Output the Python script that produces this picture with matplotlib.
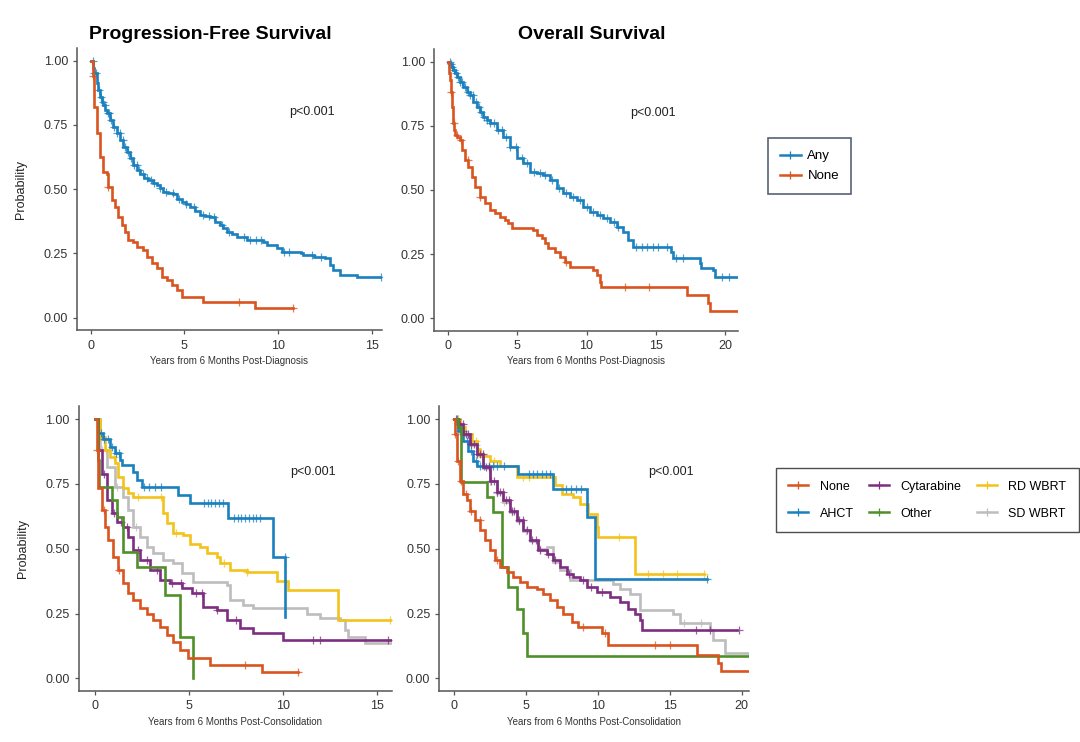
import matplotlib
matplotlib.use("Agg")
import matplotlib.pyplot as plt
import numpy as np
from matplotlib.lines import Line2D

plt.rcParams["font.family"] = ["Liberation Sans", "DejaVu Sans"]

COLORS = {
    "None": "#D9541E",
    "Any": "#1A80BE",
    "AHCT": "#1A80BE",
    "Cytarabine": "#7D2E80",
    "Other": "#4F9029",
    "RD WBRT": "#F3C31C",
    "SD WBRT": "#BDBDBD",
}

# ---- top left: PFS by any consolidation ----
pfs_any_t = [0, 0.11, 0.20, 0.32, 0.41, 0.50, 0.59, 0.68, 0.77, 0.85, 1.03, 1.21, 1.39, 1.57,
             1.74, 1.92, 2.10, 2.28, 2.46, 2.63, 2.85, 3.08, 3.31, 3.52, 3.70, 3.88, 4.15, 4.41,
             4.63, 4.86, 5.09, 5.30, 5.57, 5.84, 6.10, 6.37, 6.64, 6.90, 7.08, 7.26, 7.53, 7.79,
             8.33, 9.2, 9.4, 9.93, 10.2, 11.2, 11.35, 11.9, 12.5, 12.78, 12.95, 13.3, 14.2, 15.53]
pfs_any_s = [1.0, 0.970, 0.951, 0.912, 0.886, 0.860, 0.840, 0.827, 0.808, 0.795, 0.769, 0.743,
             0.717, 0.690, 0.665, 0.646, 0.620, 0.594, 0.575, 0.560, 0.545, 0.535, 0.525, 0.516,
             0.503, 0.490, 0.486, 0.480, 0.463, 0.450, 0.441, 0.430, 0.415, 0.400, 0.396, 0.393,
             0.374, 0.360, 0.347, 0.335, 0.325, 0.315, 0.302, 0.296, 0.283, 0.27, 0.257, 0.253,
             0.244, 0.237, 0.231, 0.205, 0.185, 0.166, 0.157, 0.157]
pfs_any_cens = [0.1, 0.2, 0.3, 0.45, 0.55, 0.65, 0.75, 0.9, 1.0, 1.1, 1.25, 1.4, 1.55, 1.7, 1.85,
                2.0, 2.15, 2.3, 2.45, 2.6, 2.8, 3.0, 3.2, 3.4, 3.7, 4.0, 4.4, 4.7, 5.1, 5.5, 6.0,
                6.3, 6.6, 7.0, 7.4, 8.2, 8.5, 8.8, 9.1, 10.3, 10.6, 11.8, 12.3, 15.5]

pfs_none_t = [0, 0.1, 0.2, 0.32, 0.5, 0.68, 0.85, 0.94, 1.12, 1.3, 1.48, 1.65, 1.83, 2.0, 2.28,
              2.46, 2.81, 2.99, 3.26, 3.52, 3.79, 4.06, 4.32, 4.59, 4.86, 6.01, 8.77, 10.8]
pfs_none_s = [1.0, 0.94, 0.82, 0.717, 0.626, 0.568, 0.56, 0.51, 0.458, 0.432, 0.393, 0.36, 0.335,
              0.302, 0.296, 0.276, 0.263, 0.237, 0.211, 0.192, 0.16, 0.147, 0.127, 0.108, 0.082,
              0.062, 0.036, 0.036]
pfs_none_cens = [0.15, 0.95, 7.9, 10.8]

# ---- top right: OS by any consolidation ----
os_any_t = [0, 0.12, 0.24, 0.36, 0.48, 0.6, 0.84, 1.08, 1.33, 1.57, 1.81, 2.05, 2.29, 2.53, 2.77,
            3.0, 3.5, 3.98, 4.46, 4.94, 5.42, 5.9, 6.39, 6.87, 7.35, 7.83, 8.31, 8.8, 9.28, 9.76,
            10.24, 10.72, 11.2, 11.69, 12.17, 12.65, 13.01, 13.37, 16.14, 16.27, 18.2, 18.3,
            19.16, 19.28, 20.97]
os_any_s = [1.0, 0.99, 0.98, 0.968, 0.955, 0.94, 0.922, 0.90, 0.883, 0.87, 0.844, 0.825, 0.805,
            0.786, 0.773, 0.76, 0.734, 0.708, 0.669, 0.623, 0.604, 0.571, 0.565, 0.558, 0.539,
            0.506, 0.487, 0.474, 0.461, 0.435, 0.416, 0.403, 0.39, 0.377, 0.357, 0.338, 0.305,
            0.277, 0.26, 0.234, 0.214, 0.195, 0.188, 0.16, 0.16]
os_any_cens = [0.1, 0.2, 0.3, 0.4, 0.55, 0.7, 0.85, 1.0, 1.2, 1.4, 1.6, 1.8, 2.0, 2.2, 2.4, 2.6,
               2.8, 3.0, 3.3, 3.6, 3.9, 4.2, 4.5, 4.9, 5.3, 5.7, 6.2, 6.6, 7.0, 7.5, 8.0, 8.5,
               9.0, 9.5, 10.0, 10.5, 11.0, 11.5, 12.0, 12.3, 13.6, 14.0, 14.4, 14.8, 15.2, 15.8,
               16.5, 17.0, 19.8, 20.3]

os_none_t = [0, 0.05, 0.12, 0.17, 0.24, 0.31, 0.36, 0.43, 0.48, 0.65, 0.84, 0.96, 1.2, 1.45,
             1.69, 1.93, 2.29, 2.65, 3.0, 3.37, 3.73, 4.1, 4.34, 4.58, 6.14, 6.39, 6.75, 6.99,
             7.23, 7.71, 8.07, 8.43, 8.8, 10.48, 10.72, 10.96, 11.08, 17.23, 18.8, 18.92, 20.97]
os_none_s = [1.0, 0.955, 0.93, 0.88, 0.825, 0.79, 0.76, 0.735, 0.714, 0.705, 0.695, 0.656, 0.617,
             0.59, 0.552, 0.513, 0.474, 0.448, 0.422, 0.409, 0.396, 0.383, 0.37, 0.35, 0.344,
             0.325, 0.312, 0.292, 0.273, 0.26, 0.24, 0.22, 0.201, 0.188, 0.169, 0.143, 0.123,
             0.091, 0.058, 0.03, 0.03]
os_none_cens = [0.2, 0.4, 0.6, 0.9, 1.4, 2.3, 8.5, 12.8, 14.5]

# ---- bottom left: PFS by consolidation type ----
pfs2_t = {
    "None": [0, 0.09, 0.18, 0.36, 0.53, 0.71, 0.98, 1.24, 1.51, 1.78, 2.04, 2.4, 2.75, 3.1, 3.46,
             3.82, 4.17, 4.53, 4.97, 6.12, 8.88, 10.83],
    "AHCT": [0, 0.18, 0.44, 0.8, 1.07, 1.33, 1.42, 2.04, 2.22, 2.49, 4.44, 5.06, 7.1, 9.5, 10.12],
    "Cytarabine": [0, 0.18, 0.36, 0.62, 0.89, 1.15, 1.51, 1.78, 2.04, 2.4, 2.93, 3.46, 4.0, 4.62,
                   5.15, 5.77, 6.48, 7.01, 7.72, 8.43, 10.03, 15.8],
    "Other": [0, 0.18, 0.23, 0.89, 1.15, 1.51, 2.22, 3.73, 4.53, 5.24],
    "RD WBRT": [0, 0.27, 0.53, 0.8, 1.07, 1.24, 1.51, 1.78, 2.04, 3.6, 3.82, 4.17, 4.7, 5.06,
                5.59, 5.95, 6.48, 6.66, 7.19, 8.08, 9.68, 10.3, 12.96, 15.8],
    "SD WBRT": [0, 0.27, 0.62, 1.07, 1.51, 1.78, 2.04, 2.4, 2.75, 3.1, 3.64, 4.17, 4.62, 5.24,
                7.01, 7.19, 7.9, 8.43, 11.27, 11.98, 13.05, 13.31, 13.49, 14.38, 15.8],
}
pfs2_s = {
    "None": [1.0, 0.88, 0.733, 0.649, 0.585, 0.533, 0.469, 0.418, 0.366, 0.328, 0.302, 0.27, 0.25,
             0.225, 0.199, 0.167, 0.141, 0.109, 0.077, 0.051, 0.026, 0.026],
    "AHCT": [1.0, 0.945, 0.925, 0.893, 0.868, 0.842, 0.823, 0.797, 0.765, 0.737, 0.707, 0.675,
             0.617, 0.469, 0.238],
    "Cytarabine": [1.0, 0.88, 0.79, 0.688, 0.636, 0.604, 0.585, 0.546, 0.495, 0.456, 0.418, 0.379,
                   0.366, 0.347, 0.328, 0.276, 0.263, 0.225, 0.193, 0.174, 0.148, 0.148],
    "Other": [1.0, 0.842, 0.738, 0.688, 0.623, 0.488, 0.43, 0.321, 0.161, 0.0],
    "RD WBRT": [1.0, 0.93, 0.88, 0.855, 0.829, 0.778, 0.733, 0.713, 0.70, 0.636, 0.598, 0.559,
                0.553, 0.52, 0.508, 0.482, 0.469, 0.443, 0.418, 0.411, 0.375, 0.34, 0.225, 0.225],
    "SD WBRT": [1.0, 0.88, 0.816, 0.739, 0.70, 0.649, 0.585, 0.546, 0.508, 0.482, 0.456, 0.443,
                0.405, 0.373, 0.36, 0.302, 0.283, 0.27, 0.25, 0.231, 0.225, 0.186, 0.161, 0.135,
                0.135],
}
pfs2_cens = {
    "None": [0.1, 0.5, 1.3, 8.0, 10.8],
    "AHCT": [0.3, 0.5, 0.7, 0.9, 1.1, 1.3, 2.6, 2.9, 3.2, 3.5, 5.8, 6.0, 6.2, 6.4, 6.6, 6.8, 7.4,
             7.6, 7.8, 8.0, 8.2, 8.4, 8.6, 8.8, 10.1],
    "Cytarabine": [0.5, 1.0, 1.4, 1.7, 2.3, 2.8, 3.3, 4.1, 4.6, 5.4, 5.7, 6.5, 7.5, 11.6, 12.0, 15.6],
    "Other": [],
    "RD WBRT": [0.3, 0.6, 1.0, 2.3, 3.5, 4.3, 6.9, 8.1, 15.7],
    "SD WBRT": [0.4, 1.2, 2.2],
}

# ---- bottom right: OS by consolidation type ----
os2_t = {
    "None": [0, 0.07, 0.19, 0.42, 0.65, 0.88, 1.11, 1.46, 1.81, 2.16, 2.5, 2.85, 3.2, 3.66, 4.13,
             4.59, 5.05, 5.75, 6.21, 6.67, 7.14, 7.6, 8.18, 8.64, 10.27, 10.73, 16.87, 18.38,
             18.54, 20.53],
    "AHCT": [0, 0.3, 0.65, 1.0, 1.34, 1.58, 4.47, 6.9, 9.22, 9.8, 17.6],
    "Cytarabine": [0, 0.3, 0.65, 1.11, 1.58, 2.04, 2.5, 2.97, 3.43, 3.89, 4.36, 4.82, 5.28, 5.86,
                   6.44, 6.9, 7.37, 7.83, 8.3, 8.76, 9.22, 9.92, 10.85, 11.54, 12.12, 12.58,
                   12.93, 13.05, 19.65],
    "Other": [0, 0.3, 0.46, 2.27, 2.73, 3.31, 3.78, 4.36, 4.82, 5.1, 20.53],
    "RD WBRT": [0, 0.42, 0.76, 1.23, 1.58, 1.81, 2.5, 3.2, 4.36, 7.02, 7.49, 8.3, 8.76, 9.34, 9.92,
                10.03, 12.58, 17.4],
    "SD WBRT": [0, 0.3, 0.65, 1.11, 1.58, 2.04, 2.5, 2.97, 3.43, 3.89, 4.36, 4.82, 5.28, 5.86,
                6.44, 6.9, 7.37, 8.07, 11.08, 11.54, 12.24, 12.93, 15.25, 15.71, 17.8, 18.03,
                18.84, 20.53],
}
os2_s = {
    "None": [1.0, 0.942, 0.84, 0.763, 0.712, 0.686, 0.647, 0.609, 0.571, 0.532, 0.494, 0.455,
             0.429, 0.41, 0.391, 0.372, 0.353, 0.346, 0.327, 0.301, 0.276, 0.25, 0.218, 0.199,
             0.173, 0.128, 0.09, 0.058, 0.03, 0.03],
    "AHCT": [1.0, 0.955, 0.917, 0.878, 0.84, 0.82, 0.788, 0.731, 0.622, 0.385, 0.385],
    "Cytarabine": [1.0, 0.98, 0.942, 0.904, 0.865, 0.814, 0.763, 0.718, 0.686, 0.647, 0.609,
                   0.571, 0.532, 0.494, 0.481, 0.455, 0.429, 0.404, 0.391, 0.378, 0.353, 0.333,
                   0.314, 0.295, 0.269, 0.25, 0.224, 0.186, 0.186],
    "Other": [1.0, 0.968, 0.756, 0.699, 0.641, 0.429, 0.353, 0.269, 0.173, 0.086, 0.086],
    "RD WBRT": [1.0, 0.968, 0.942, 0.917, 0.885, 0.859, 0.84, 0.82, 0.776, 0.744, 0.712, 0.699,
                0.673, 0.635, 0.583, 0.545, 0.404, 0.404],
    "SD WBRT": [1.0, 0.975, 0.94, 0.90, 0.86, 0.81, 0.76, 0.715, 0.68, 0.64, 0.605, 0.568, 0.53,
                0.50, 0.506, 0.449, 0.417, 0.378, 0.365, 0.346, 0.327, 0.263, 0.25, 0.212, 0.186,
                0.147, 0.096, 0.09],
}
os2_cens = {
    "None": [0.1, 0.3, 0.5, 0.8, 1.2, 1.8, 3.0, 9.0, 10.5, 14.0, 15.0],
    "AHCT": [0.2, 0.4, 0.6, 0.9, 1.2, 1.5, 1.8, 2.1, 2.4, 2.7, 3.0, 3.5, 5.2, 5.5, 5.8, 6.1, 6.4,
             6.7, 7.8, 8.1, 8.5, 8.8, 17.6],
    "Cytarabine": [0.15, 0.3, 0.45, 0.6, 0.8, 1.0, 1.2, 1.4, 1.6, 1.8, 2.0, 2.2, 2.4, 2.6, 2.8,
                   3.0, 3.2, 3.4, 3.6, 3.8, 4.0, 4.2, 4.5, 4.8, 5.1, 5.4, 5.7, 6.0, 6.5, 7.0, 8.0,
                   9.0, 9.5, 10.3, 16.8, 17.8, 19.8],
    "Other": [],
    "RD WBRT": [0.3, 1.5, 2.8, 4.8, 5.2, 11.5, 13.5, 14.5, 15.5, 17.4],
    "SD WBRT": [0.2, 0.5, 1.0, 1.5, 2.0, 2.5, 3.0, 3.5, 4.0, 4.5, 5.0, 6.0, 16.0, 17.2],
}

GROUPS2 = ["None", "AHCT", "Cytarabine", "Other", "RD WBRT", "SD WBRT"]
DRAW_ORDER2 = ["SD WBRT", "RD WBRT", "AHCT", "Cytarabine", "Other", "None"]


def km(ax, t, s, cens, color):
    t = np.asarray(t)
    s = np.asarray(s)
    ax.step(t, s, where="post", color=color, lw=1.9, solid_joinstyle="miter")
    if len(cens):
        idx = np.searchsorted(t, cens, side="right") - 1
        ax.plot(cens, s[idx], ls="none", marker="+", ms=6, mew=0.9, color=color, alpha=0.75)


def style(ax, xlim, xticks, xlabel, ylabel=None):
    ax.set_xlim(*xlim)
    ax.set_ylim(-0.05, 1.05)
    ax.set_xticks(xticks)
    ax.set_yticks([0, 0.25, 0.5, 0.75, 1.0])
    ax.set_yticklabels(["0.00", "0.25", "0.50", "0.75", "1.00"])
    for side in ("top", "right"):
        ax.spines[side].set_visible(False)
    for side in ("left", "bottom"):
        ax.spines[side].set_color("#555555")
        ax.spines[side].set_linewidth(1.1)
    ax.tick_params(colors="#555555", labelcolor="#333333", labelsize=9, length=3, width=0.9)
    ax.set_xlabel(xlabel, fontsize=7, color="#333333", labelpad=3)
    if ylabel:
        ax.set_ylabel(ylabel, fontsize=9, color="#222222", labelpad=12)


fig = plt.figure(figsize=(10.8, 7.42), dpi=100)

ax1 = fig.add_axes([0.0713, 0.5546, 0.2824, 0.3810])
km(ax1, pfs_any_t, pfs_any_s, pfs_any_cens, COLORS["Any"])
km(ax1, pfs_none_t, pfs_none_s, pfs_none_cens, COLORS["None"])
style(ax1, (-0.73, 15.55), [0, 5, 10, 15], "Years from 6 Months Post-Diagnosis", "Probability")
ax1.text(11.8, 0.80, "p<0.001", fontsize=9, ha="center", va="center", color="#222222")

ax2 = fig.add_axes([0.4021, 0.5538, 0.2815, 0.3804])
km(ax2, os_any_t, os_any_s, os_any_cens, COLORS["Any"])
km(ax2, os_none_t, os_none_s, os_none_cens, COLORS["None"])
style(ax2, (-1.01, 20.97), [0, 5, 10, 15, 20], "Years from 6 Months Post-Diagnosis")
ax2.text(14.8, 0.80, "p<0.001", fontsize=9, ha="center", va="center", color="#222222")

ax3 = fig.add_axes([0.0731, 0.0683, 0.2895, 0.3844])
for g in DRAW_ORDER2:
    km(ax3, pfs2_t[g], pfs2_s[g], pfs2_cens[g], COLORS[g])
style(ax3, (-0.85, 15.8), [0, 5, 10, 15], "Years from 6 Months Post-Consolidation", "Probability")
ax3.text(11.6, 0.797, "p<0.001", fontsize=9, ha="center", va="center", color="#222222")

ax4 = fig.add_axes([0.4068, 0.0683, 0.2870, 0.3844])
for g in DRAW_ORDER2:
    km(ax4, os2_t[g], os2_s[g], os2_cens[g], COLORS[g])
style(ax4, (-1.02, 20.53), [0, 5, 10, 15, 20], "Years from 6 Months Post-Consolidation")
ax4.text(15.1, 0.795, "p<0.001", fontsize=9, ha="center", va="center", color="#222222")

fig.text(0.1944, 0.954, "Progression-Free Survival", fontsize=14, fontweight="bold",
         ha="center", va="center")
fig.text(0.548, 0.954, "Overall Survival", fontsize=14, fontweight="bold",
         ha="center", va="center")


def handle(color):
    return Line2D([], [], color=color, lw=1.8, marker="+", ms=6, mew=0.9)


leg1 = fig.legend([handle(COLORS["Any"]), handle(COLORS["None"])], ["Any", "None"],
                  loc="upper left", bbox_to_anchor=(0.711, 0.814), borderaxespad=0,
                  fontsize=9.5, handlelength=1.6, handletextpad=0.5, borderpad=0.9,
                  labelspacing=0.6, fancybox=False, frameon=True)
leg1.get_frame().set_edgecolor("#2B3A55")
leg1.get_frame().set_linewidth(1.2)

leg2 = fig.legend([handle(COLORS[g]) for g in GROUPS2], GROUPS2, ncol=3,
                  loc="upper left", bbox_to_anchor=(0.7185, 0.369), borderaxespad=0,
                  fontsize=9, handlelength=1.6, handletextpad=0.9, borderpad=1.0,
                  labelspacing=1.2, columnspacing=1.25, fancybox=False, frameon=True)
leg2.get_frame().set_edgecolor("#222222")
leg2.get_frame().set_linewidth(1.0)

fig.savefig("out.png", dpi=100, facecolor="white")
